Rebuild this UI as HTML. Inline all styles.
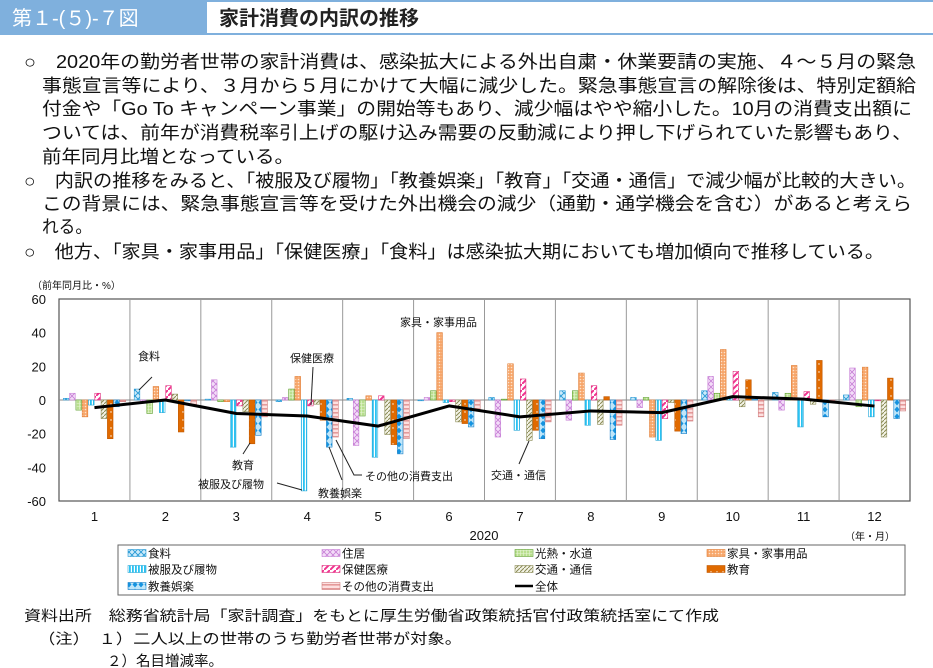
<!DOCTYPE html>
<html><head><meta charset="utf-8">
<style>
html,body{margin:0;padding:0;background:#fff;width:933px;height:668px;overflow:hidden}
svg{display:block;font-family:"Liberation Sans","Noto Sans CJK JP",sans-serif}
</style></head>
<body>
<svg id="chart" width="933" height="668" viewBox="0 0 933 668" xmlns="http://www.w3.org/2000/svg">
<defs>
<pattern id="p0" width="6" height="6" patternUnits="userSpaceOnUse"><rect width="6" height="6" fill="#cdebfa"/><path d="M0 3 L3 0 L6 3 L3 6Z" fill="none" stroke="#2a9bd6" stroke-width="0.9"/></pattern>
<pattern id="p1" width="6" height="6" patternUnits="userSpaceOnUse"><rect width="6" height="6" fill="#f3dcf8"/><path d="M0 0L6 6M6 0L0 6" stroke="#c77fd6" stroke-width="0.8"/></pattern>
<pattern id="p2" width="3" height="3" patternUnits="userSpaceOnUse"><rect width="3" height="3" fill="#b9df8e"/><path d="M0 1.5H3M1.5 0V3" stroke="#e6f5d4" stroke-width="0.6"/></pattern>
<pattern id="p3" width="3" height="3" patternUnits="userSpaceOnUse"><rect width="3" height="3" fill="#f7a66a"/><circle cx="1.5" cy="1.5" r="0.8" fill="#fde3cc"/></pattern>
<pattern id="p4" width="3" height="4" patternUnits="userSpaceOnUse"><rect width="3" height="4" fill="#fff"/><rect width="1.8" height="4" fill="#29c2f2"/></pattern>
<pattern id="p5" width="6" height="6" patternUnits="userSpaceOnUse"><rect width="6" height="6" fill="#fff"/><path d="M-1 7L7 -1" stroke="#f0338f" stroke-width="2"/></pattern>
<pattern id="p6" width="4" height="4" patternUnits="userSpaceOnUse"><rect width="4" height="4" fill="#f3f3e6"/><path d="M0 4L4 0" stroke="#8a8a55" stroke-width="1"/></pattern>
<pattern id="p7" width="6" height="8" patternUnits="userSpaceOnUse"><rect width="6" height="8" fill="#e06a00"/><circle cx="3" cy="4" r="0.7" fill="#fff"/></pattern>
<pattern id="p8" width="6" height="7" patternUnits="userSpaceOnUse"><rect width="6" height="7" fill="#bfe6fa"/><path d="M3 0.5L5.5 3.5L3 6.5L0.5 3.5Z" fill="#1493e0"/></pattern>
<pattern id="p9" width="4" height="4" patternUnits="userSpaceOnUse"><rect width="4" height="4" fill="#fde0e0"/><rect y="0" width="4" height="1.6" fill="#e59a9a"/></pattern>
</defs>

<rect x="0" y="0" width="207" height="34" fill="#7fb0dd"/>
<text x="12" y="25" font-size="20" fill="#fff">第１-(５)-７図</text>
<line x1="207" y1="1" x2="933" y2="1" stroke="#7fb0dd" stroke-width="2"/>
<line x1="0" y1="34" x2="933" y2="34" stroke="#7fb0dd" stroke-width="2"/>
<text x="219" y="25" font-size="20" font-weight="bold" fill="#222">家計消費の内訳の推移</text>

<g font-size="18" fill="#111">
<text x="24" y="68" textLength="892" lengthAdjust="spacingAndGlyphs">○　2020年の勤労者世帯の家計消費は、感染拡大による外出自粛・休業要請の実施、４～５月の緊急</text>
<text x="42" y="92" textLength="874" lengthAdjust="spacingAndGlyphs">事態宣言等により、３月から５月にかけて大幅に減少した。緊急事態宣言の解除後は、特別定額給</text>
<text x="42" y="115" textLength="870" lengthAdjust="spacingAndGlyphs">付金や「Go To キャンペーン事業」の開始等もあり、減少幅はやや縮小した。10月の消費支出額に</text>
<text x="42" y="139" textLength="870" lengthAdjust="spacingAndGlyphs">ついては、前年が消費税率引上げの駆け込み需要の反動減により押し下げられていた影響もあり、</text>
<text x="42" y="163" textLength="252" lengthAdjust="spacingAndGlyphs">前年同月比増となっている。</text>
<text x="24" y="187" textLength="892" lengthAdjust="spacingAndGlyphs">○　内訳の推移をみると、「被服及び履物」「教養娯楽」「教育」「交通・通信」で減少幅が比較的大きい。</text>
<text x="42" y="210" textLength="870" lengthAdjust="spacingAndGlyphs">この背景には、緊急事態宣言等を受けた外出機会の減少（通勤・通学機会を含む）があると考えら</text>
<text x="42" y="233" textLength="50" lengthAdjust="spacingAndGlyphs">れる。</text>
<text x="24" y="258" textLength="860" lengthAdjust="spacingAndGlyphs">○　他方、「家具・家事用品」「保健医療」「食料」は感染拡大期においても増加傾向で推移している。</text>
</g>

<g id="plot"></g>

<g font-size="14.5" fill="#111">
<text x="24" y="621" textLength="695" lengthAdjust="spacingAndGlyphs">資料出所　総務省統計局「家計調査」をもとに厚生労働省政策統括官付政策統括室にて作成</text>
<text x="38" y="644" textLength="424" lengthAdjust="spacingAndGlyphs">（注）　１）二人以上の世帯のうち勤労者世帯が対象。</text>
<text x="107" y="666">２）名目増減率。</text>
</g>
</svg>
<script>
const months = ["1","2","3","4","5","6","7","8","9","10","11","12"];
const seriesNames = ["食料","住居","光熱・水道","家具・家事用品","被服及び履物","保健医療","交通・通信","教育","教養娯楽","その他の消費支出"];
const sFood     = [1, 6.5, 0.5, -1, 1, 0, 1.5, 5.5, 1.5, 5.5, 4.5, 3];
const sHousing  = [4, -1, 12, 1.5, -27, 1.5, -22, -12, -4.5, 14, -6, 19];
const sUtility  = [-6, -8, -1, 6.5, -9.5, 5.5, 0.5, 5.5, 1.5, 4, 4, -4];
const sFurn     = [-10, 8, -1, 14, 2.5, 40, 21.5, 16, -22, 30, 20.5, 19.5];
const sCloth    = [-3, -7.5, -28, -54, -34, -1.5, -18, -15, -24, 1, -16, -10];
const sHealth   = [4, 8.5, -3.5, -3.5, 2.5, -1, 12.5, 8.5, -11, 17, 5, 0];
const sTrans    = [-11, 3.5, -7, -2.5, -20.5, -13, -24, -14.5, -1.5, -4, -2.5, -22];
const sEdu      = [-23, -19, -26, -12, -26.5, -14, -18, 2, -18.5, 12, 23.5, 13];
const sRecr     = [-4, -0.5, -21, -28, -32, -16, -23, -23.5, -20, 0.5, -10, -11];
const sOther    = [-1, -2.5, -10, -22, -23, -6, -13, -15, -12.5, -10, 0, -6.5];
const sTotal    = [-4.5, 0, -8, -9.5, -15.5, -3.5, -10, -6.5, -7.5, 2, 0.5, -3.6];
const yTicks = [60, 40, 20, 0, -20, -40, -60];
const allSeries = [sFood,sHousing,sUtility,sFurn,sCloth,sHealth,sTrans,sEdu,sRecr,sOther];

const NS = "http://www.w3.org/2000/svg";
const L = 59, R = 910, T = 299, B = 501;
const mw = (R - L) / months.length;
const yScale = v => T + (60 - v) * (B - T) / 120;
const xCenter = i => L + mw * (i + 0.5);
const strokes = ["#2a9bd6","#c77fd6","#5fa030","#e07a30","#29a8d8","#e0307f","#8a8a55","#c05800","#1a80c8","#d08080"];
const plot = document.getElementById('plot');
function mk(tag, attrs, parent){ const e=document.createElementNS(NS,tag); for(const k in attrs) e.setAttribute(k,attrs[k]); (parent||plot).appendChild(e); return e; }

const frame = mk('rect',{x:L,y:T,width:R-L,height:B-T,fill:"#fff",stroke:"#555","stroke-width":1.2});


for(let i=1;i<months.length;i++){
  const x=L+mw*i;
  const g=mk('line',{x1:x,y1:T,x2:x,y2:B,stroke:"#999","stroke-width":1});
  
  
}
const zl = mk('line',{x1:L,y1:yScale(0),x2:R,y2:yScale(0),stroke:"#888","stroke-width":1});


yTicks.forEach(v=>{
  const t=mk('text',{x:46,y:yScale(v)+5,"font-size":13,"text-anchor":"end",fill:"#111"}); t.textContent=v;
  
  
});
const yt=mk('text',{x:32,y:289,"font-size":10,fill:"#111"}); yt.textContent="（前年同月比・%）";


months.forEach((m,i)=>{
  const t=mk('text',{x:xCenter(i),y:521,"font-size":13,"text-anchor":"middle",fill:"#111"}); t.textContent=m;
  
  
});
const yr=mk('text',{x:484,y:540,"font-size":13,"text-anchor":"middle",fill:"#111"}); yr.textContent="2020";


const xu=mk('text',{x:870,y:540,"font-size":10,"text-anchor":"middle",fill:"#111"}); xu.textContent="（年・月）";



const step = 6.3, bw = 5.6;
allSeries.forEach((arr,s)=>{
  arr.forEach((v,i)=>{
    const x = xCenter(i) + (s-4.5)*step - bw/2;
    const y0 = yScale(0), y1 = yScale(v);
    const b = mk('rect',{x:x,y:Math.min(y0,y1),width:bw,height:Math.max(0.8,Math.abs(y1-y0)),fill:"url(#p"+s+")",stroke:strokes[s],"stroke-width":0.6});
    
    
  });
});
const pts = sTotal.map((v,i)=>xCenter(i)+","+yScale(v)).join(" ");
const ln = mk('polyline',{points:pts,fill:"none",stroke:"#000","stroke-width":3,"stroke-linejoin":"round"});



const ann = [
  ["食料",138,360,[[152,377],[139,390]]],
  ["保健医療",290,362,[[313,367],[311,405]]],
  ["家具・家事用品",400,326,[]],
  ["教育",232,469,[[250,443],[243,454]]],
  ["被服及び履物",198,488,[[277,483],[302,490]]],
  ["教養娯楽",318,497,[[329,447],[342,480]]],
  ["その他の消費支出",365,480,[[336,440],[354,475],[362,475]]],
  ["交通・通信",491,479,[[529,441],[519,464]]]
];
ann.forEach(a=>{
  const t=mk('text',{x:a[1],y:a[2],"font-size":11,fill:"#111"}); t.textContent=a[0];
  
  
  if(a[3].length){
    const p=mk('polyline',{points:a[3].map(q=>q.join(",")).join(" "),fill:"none",stroke:"#222","stroke-width":1});
    
    
  }
});

const lg = mk('rect',{x:118,y:545,width:787,height:50,fill:"#fff",stroke:"#666","stroke-width":1});


const legendNames = seriesNames.concat(["全体"]);
const rowY=[553,569,586];
const colXs=[128,322,515,707];
for(let s=0;s<legendNames.length;s++){
  const r=Math.floor(s/4), c=s%4;
  const xr=colXs[c], y=rowY[r];
  let sw;
  if(s<10){ sw=mk('rect',{x:xr,y:y-3.5,width:18,height:7,fill:"url(#p"+s+")",stroke:strokes[s],"stroke-width":0.6}); }
  else { sw=mk('line',{x1:xr,y1:y,x2:xr+18,y2:y,stroke:"#000","stroke-width":2.5}); }
  
  
  const t=mk('text',{x:xr+20,y:y+4.5,"font-size":11.5,fill:"#111"}); t.textContent=legendNames[s];
  
  
}
</script>
</body></html>
